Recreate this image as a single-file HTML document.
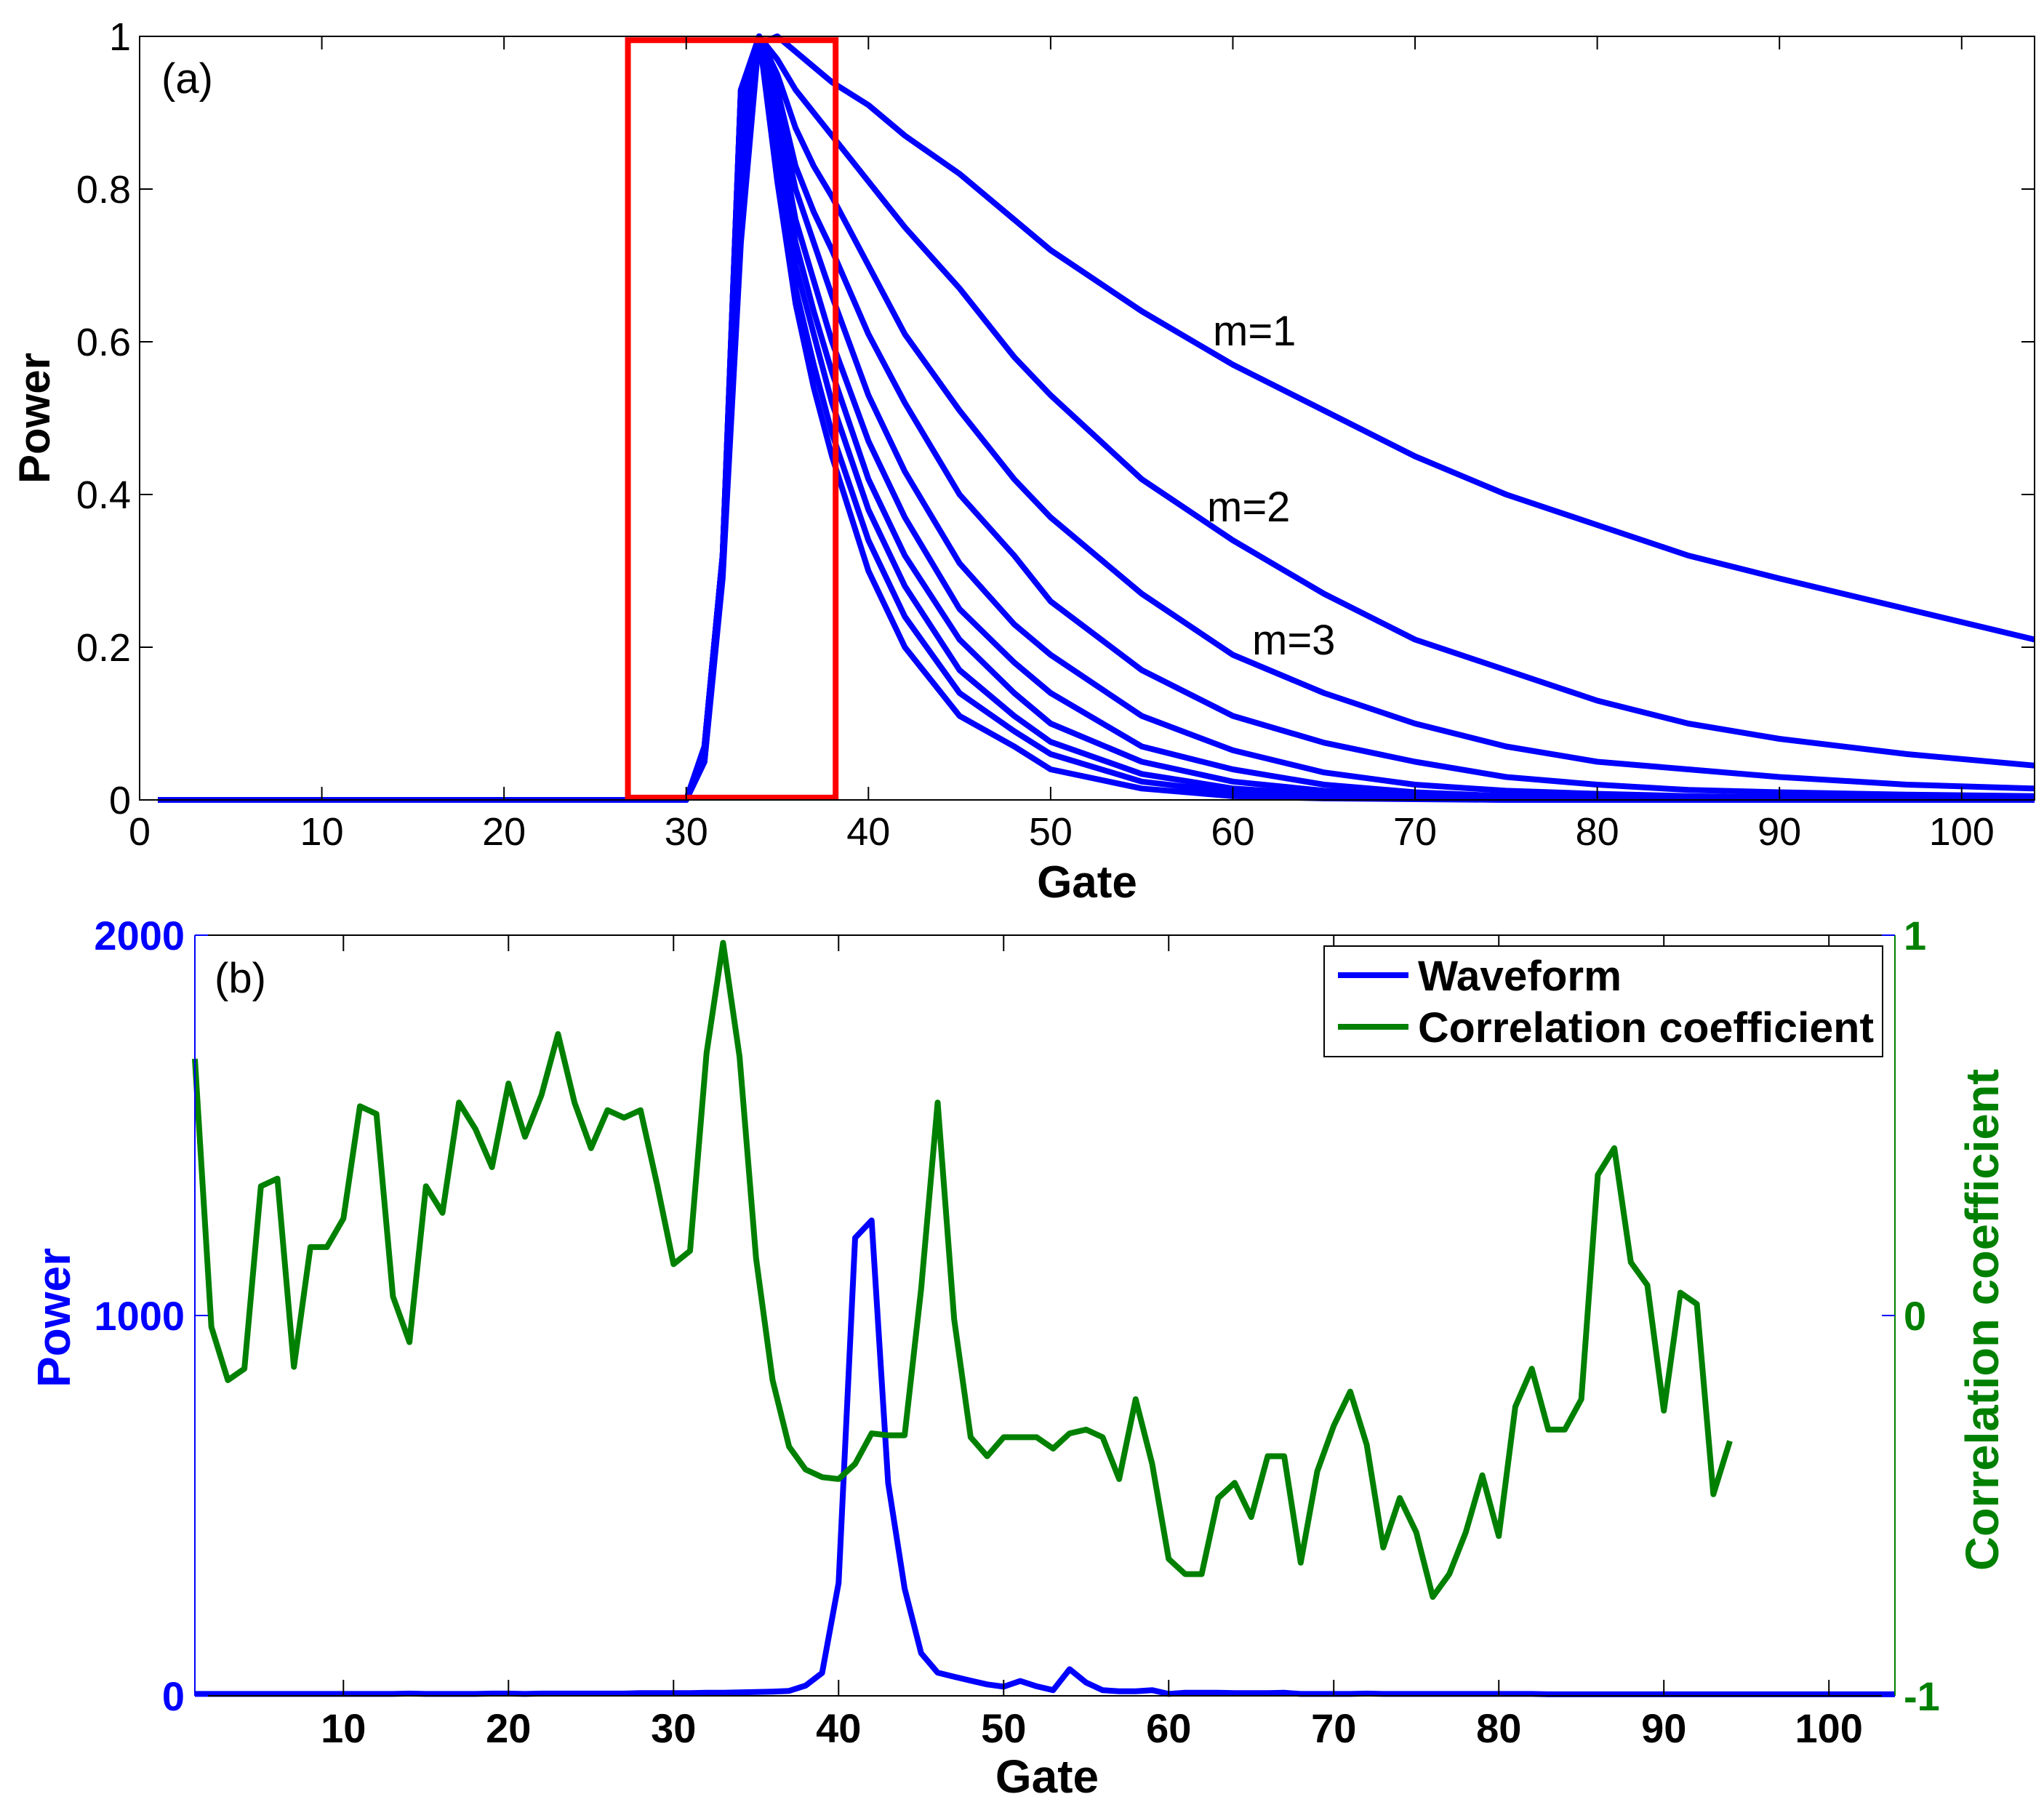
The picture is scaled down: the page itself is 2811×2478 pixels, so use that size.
<!DOCTYPE html>
<html><head><meta charset="utf-8"><style>
html,body{margin:0;padding:0;background:#fff;}
svg{display:block;font-family:"Liberation Sans",Arial,sans-serif;}
</style></head><body>
<svg id="fig" width="2811" height="2478" viewBox="0 0 2811 2478"></svg>
<script>
// ---------- Panel (a) data ----------
const aGates = [1, 30, 31, 32, 33, 34, 35, 36, 37, 38, 40, 42, 45, 48, 50, 55, 60, 65, 70, 75, 80, 85, 90, 97, 104];
const aCurve1 = [0,0,0.07,0.32,0.93,0.99,1.0,0.98,0.96,0.94,0.91,0.87,0.82,0.76,0.72,0.64,0.57,0.51,0.45,0.40,0.36,0.32,0.29,0.25,0.21];
const aCurve2 = [0,0,0.07,0.32,0.93,1.0,0.97,0.93,0.90,0.87,0.81,0.75,0.67,0.58,0.53,0.42,0.34,0.27,0.21,0.17,0.13,0.10,0.08,0.06,0.045];
const aCurve3 = [0,0,0.07,0.32,0.93,1.0,0.95,0.88,0.83,0.79,0.70,0.61,0.51,0.42,0.37,0.27,0.19,0.14,0.10,0.07,0.05,0.04,0.03,0.02,0.015];
const aCurve4 = [0,0,0.07,0.32,0.93,1.0,0.93,0.83,0.77,0.72,0.61,0.52,0.40,0.32,0.26,0.17,0.11,0.075,0.05,0.03,0.02,0.013,0.01,0.007,0.005];
const aCurve5 = [0,0,0.07,0.32,0.90,1.0,0.91,0.80,0.73,0.66,0.53,0.43,0.31,0.23,0.19,0.11,0.065,0.036,0.02,0.012,0.008,0.005,0.003,0.002,0.001];
const aCurve6 = [0,0,0.07,0.32,0.88,1.0,0.89,0.76,0.68,0.60,0.47,0.37,0.25,0.18,0.14,0.07,0.04,0.02,0.01,0.005,0.003,0.002,0.001,0,0];
const aCurve7 = [0,0,0.06,0.31,0.85,1.0,0.87,0.73,0.64,0.56,0.42,0.32,0.21,0.14,0.10,0.05,0.024,0.012,0.006,0.002,0.001,0,0,0,0];
const aCurve8 = [0,0,0.06,0.30,0.80,1.0,0.85,0.70,0.61,0.52,0.38,0.28,0.17,0.11,0.076,0.034,0.015,0.007,0.003,0.001,0,0,0,0,0];
const aCurve9 = [0,0,0.05,0.30,0.76,1.0,0.83,0.67,0.57,0.48,0.34,0.24,0.14,0.09,0.06,0.024,0.01,0.004,0.002,0,0,0,0,0,0];
const aCurve10 = [0,0,0.05,0.29,0.73,1.0,0.81,0.65,0.54,0.45,0.30,0.20,0.11,0.07,0.04,0.015,0.005,0.002,0.001,0,0,0,0,0,0];
const aXTicks = [0, 10, 20, 30, 40, 50, 60, 70, 80, 90, 100];
const aYTicks = [0, 0.2, 0.4, 0.6, 0.8, 1];
const aYTickLabels = ["0", "0.2", "0.4", "0.6", "0.8", "1"];
const aBox = [26.8, 38.2, 0.003, 0.995];

// ---------- Panel (b) data ----------
const waveform = [5,5,5,5,5,5,5,5,5,5, 5,5,5,6,5,5,5,5,6,6, 5,6,6,6,6,6,6,7,7,7, 7,8,8,9,10,11,13,27,60,297,
  1204,1250,560,282,112,61,50,40,30,24, 39,25,15,70,35,15,12,12,15,5, 8,8,8,7,7,7,8,5,5,5,
  5,6,5,5,5,5,5,5,5,5, 5,5,4,4,4,4,4,4,4,4, 4,4,4,4,4,4,4,4,4,4, 4,4,4,4];
const corr = [0.675,-0.03,-0.17,-0.14,0.34,0.36,-0.135,0.18,0.18,0.255,
  0.55,0.53,0.05,-0.07,0.34,0.27,0.56,0.49,0.39,0.61,
  0.47,0.58,0.74,0.56,0.44,0.54,0.52,0.54,0.345,0.135,
  0.17,0.69,0.98,0.68,0.15,-0.17,-0.345,-0.405,-0.425,-0.43,
  -0.39,-0.31,-0.315,-0.315,0.07,0.56,-0.01,-0.32,-0.37,-0.32,
  -0.32,-0.32,-0.35,-0.31,-0.30,-0.32,-0.43,-0.22,-0.39,-0.64,
  -0.68,-0.68,-0.48,-0.44,-0.53,-0.37,-0.37,-0.65,-0.41,-0.29,
  -0.20,-0.34,-0.61,-0.48,-0.57,-0.74,-0.68,-0.57,-0.42,-0.58,
  -0.24,-0.14,-0.30,-0.30,-0.22,0.37,0.44,0.14,0.08,-0.25,
  0.06,0.03,-0.47,-0.33];
const bXTicks = [10, 20, 30, 40, 50, 60, 70, 80, 90, 100];
const bLeftTicks = [0, 1000, 2000];
const bRightTicks = [-1, 0, 1];

const NS = "http://www.w3.org/2000/svg";
const svg = document.getElementById("fig");
function mk(tag, attrs, parent) {
  const e = document.createElementNS(NS, tag);
  for (const k in attrs) e.setAttribute(k, attrs[k]);
  (parent || svg).appendChild(e);
  return e;
}
function txt(s, attrs, parent) { const t = mk("text", attrs, parent); t.textContent = s; return t; }

// ---------- Panel (a) ----------
const A = {l:192, r:2798, t:50, b:1100, x0:0, x1:104, y0:0, y1:1};
const ax = g => A.l + (g - A.x0) / (A.x1 - A.x0) * (A.r - A.l);
const ay = v => A.b - (v - A.y0) / (A.y1 - A.y0) * (A.b - A.t);
const gA = mk("g", {});


const curves = [aCurve1,aCurve2,aCurve3,aCurve4,aCurve5,aCurve6,aCurve7,aCurve8,aCurve9,aCurve10];
curves.forEach((c, i) => {
  const d = c.map((v, j) => (j ? "L" : "M") + ax(aGates[j]).toFixed(1) + "," + ay(v).toFixed(1)).join("");
  const p = mk("path", {d: d, fill: "none", stroke: "#0000ff", "stroke-width": 8, "stroke-linejoin": "round"}, gA);
  
  
});
const rb = mk("rect", {x: ax(aBox[0]), y: ay(aBox[3]), width: ax(aBox[1]) - ax(aBox[0]), height: ay(aBox[2]) - ay(aBox[3]), fill: "none", stroke: "#ff0000", "stroke-width": 8}, gA);


const frA = mk("rect", {x: A.l, y: A.t, width: A.r - A.l, height: A.b - A.t, fill: "none", stroke: "#000", "stroke-width": 2}, gA);


aXTicks.forEach(t => {
  const x = ax(t);
  mk("line", {x1: x, x2: x, y1: A.b, y2: A.b - 18, stroke: "#000", "stroke-width": 2}, gA);
  mk("line", {x1: x, x2: x, y1: A.t, y2: A.t + 18, stroke: "#000", "stroke-width": 2}, gA);
  const l = txt(String(t), {x: x, y: A.b + 62, "font-size": 54, "text-anchor": "middle"}, gA);
  
  
});
aYTicks.forEach((t, i) => {
  const y = ay(t);
  mk("line", {x1: A.l, x2: A.l + 18, y1: y, y2: y, stroke: "#000", "stroke-width": 2}, gA);
  mk("line", {x1: A.r, x2: A.r - 18, y1: y, y2: y, stroke: "#000", "stroke-width": 2}, gA);
  const l = txt(aYTickLabels[i], {x: A.l - 12, y: y + 19, "font-size": 54, "text-anchor": "end"}, gA);
  
  
});
</script>
<script>
(function(){
  const NS = "http://www.w3.org/2000/svg";
  const svg = document.getElementById("fig");
  function t(s, a, name) {
    const e = document.createElementNS(NS, "text");
    for (const k in a) e.setAttribute(k, a[k]);
    e.textContent = s;
    
    
    svg.appendChild(e);
  }
  t("(a)", {x: 222, y: 128, "font-size": 58}, "panel-a-label");
  t("m=1", {x: 1668, y: 475, "font-size": 58}, "label-m1");
  t("m=2", {x: 1660, y: 717, "font-size": 58}, "label-m2");
  t("m=3", {x: 1722, y: 900, "font-size": 58}, "label-m3");
  t("Gate", {x: 1495, y: 1234, "font-size": 62, "font-weight": "bold", "text-anchor": "middle"}, "x-axis-title-a");
  t("Power", {x: 0, y: 0, "font-size": 60, "font-weight": "bold", "text-anchor": "middle", transform: "translate(68,575) rotate(-90)"}, "y-axis-title-a");
  t("(b)", {x: 295, y: 1365, "font-size": 58}, "panel-b-label");
  t("Gate", {x: 1440, y: 2465, "font-size": 64, "font-weight": "bold", "text-anchor": "middle"}, "x-axis-title-b");
  t("Power", {x: 0, y: 0, "font-size": 64, "font-weight": "bold", "fill": "#0000ff", "text-anchor": "middle", transform: "translate(96,1812) rotate(-90)"}, "y-axis-title-left-b");
  t("Correlation coefficient", {x: 0, y: 0, "font-size": 64, "font-weight": "bold", "fill": "#008000", "text-anchor": "middle", textLength: 690, lengthAdjust: "spacingAndGlyphs", transform: "translate(2748,1815) rotate(-90)"}, "y-axis-title-right-b");
})();
</script>
<script>
(function(){
  const B = {l:268, r:2606, t:1286, b:2332, x0:1, x1:104};
  const bx = g => B.l + (g - B.x0) / (B.x1 - B.x0) * (B.r - B.l);
  const byL = v => B.b - v / 2000 * (B.b - B.t);
  const byR = v => B.b - (v + 1) / 2 * (B.b - B.t);
  const g = mk("g", {});
  
  
  const dW = waveform.map((v, i) => (i ? "L" : "M") + bx(i + 1).toFixed(1) + "," + byL(v).toFixed(1)).join("");
  const pw = mk("path", {d: dW, fill: "none", stroke: "#0000ff", "stroke-width": 8, "stroke-linejoin": "round"}, g);
  
  
  const dC = corr.map((v, i) => (i ? "L" : "M") + bx(i + 1).toFixed(1) + "," + byR(v).toFixed(1)).join("");
  const pc = mk("path", {d: dC, fill: "none", stroke: "#008000", "stroke-width": 8, "stroke-linejoin": "round"}, g);
  
  
  mk("line", {x1: B.l, x2: B.r, y1: B.t, y2: B.t, stroke: "#000", "stroke-width": 2}, g);
  mk("line", {x1: B.l, x2: B.r, y1: B.b, y2: B.b, stroke: "#000", "stroke-width": 2}, g);
  mk("line", {x1: B.l, x2: B.l, y1: B.t, y2: B.b, stroke: "#0000ff", "stroke-width": 2}, g);
  mk("line", {x1: B.r, x2: B.r, y1: B.t, y2: B.b, stroke: "#008000", "stroke-width": 2}, g);
  bXTicks.forEach(t => {
    const x = bx(t);
    mk("line", {x1: x, x2: x, y1: B.b, y2: B.b - 22, stroke: "#000", "stroke-width": 2}, g);
    mk("line", {x1: x, x2: x, y1: B.t, y2: B.t + 22, stroke: "#000", "stroke-width": 2}, g);
    const l = txt(String(t), {x: x, y: B.b + 64, "font-size": 56, "font-weight": "bold", "text-anchor": "middle"}, g);
    
    
  });
  bLeftTicks.forEach(t => {
    const y = byL(t);
    mk("line", {x1: B.l, x2: B.l + 18, y1: y, y2: y, stroke: "#0000ff", "stroke-width": 2}, g);
    const l = txt(String(t), {x: B.l - 14, y: y + 20, "font-size": 56, "font-weight": "bold", fill: "#0000ff", "text-anchor": "end"}, g);
    
    
  });
  bRightTicks.forEach(t => {
    const y = byR(t);
    mk("line", {x1: B.r, x2: B.r - 18, y1: y, y2: y, stroke: "#0000ff", "stroke-width": 2}, g);
    const l = txt(String(t), {x: B.r + 12, y: y + 20, "font-size": 56, "font-weight": "bold", fill: "#008000"}, g);
    
    
  });
  const lg = mk("g", {}, g);
  
  
  mk("rect", {x: 1821, y: 1301, width: 768, height: 152, fill: "#fff", stroke: "#000", "stroke-width": 2}, lg);
  const e1 = mk("line", {x1: 1840, x2: 1937, y1: 1341, y2: 1341, stroke: "#0000ff", "stroke-width": 8}, lg);
  
  
  const t1 = txt("Waveform", {x: 1950, y: 1362, "font-size": 58, "font-weight": "bold", textLength: 280, lengthAdjust: "spacingAndGlyphs"}, lg);
  
  
  const e2 = mk("line", {x1: 1840, x2: 1937, y1: 1412, y2: 1412, stroke: "#008000", "stroke-width": 8}, lg);
  
  
  const t2 = txt("Correlation coefficient", {x: 1950, y: 1433, "font-size": 58, "font-weight": "bold", textLength: 627, lengthAdjust: "spacingAndGlyphs"}, lg);
  
  
})();
</script>
</body></html>
